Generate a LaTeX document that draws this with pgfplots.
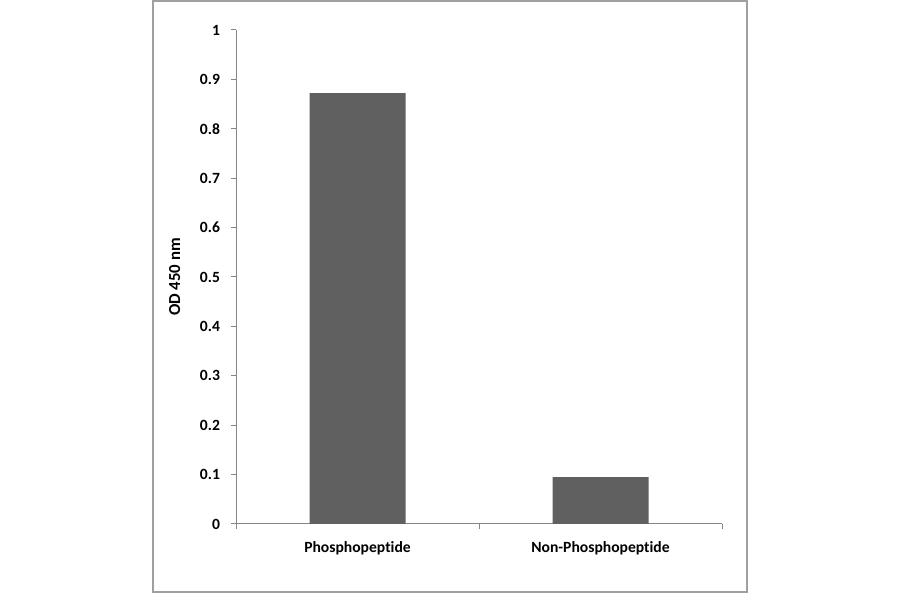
\documentclass[border=0pt]{standalone}
\usepackage{fontspec}
\setmainfont{Carlito}[Ligatures=NoCommon]
\usepackage{pgfplots}
\pgfplotsset{compat=1.18}
\definecolor{barfill}{RGB}{96,96,96}
\definecolor{axgray}{RGB}{134,134,134}
\definecolor{framegray}{RGB}{160,160,160}
\begin{document}
\begin{tikzpicture}[x=1pt,y=1pt]
% page: 450 x 297 pt (1 px = 0.5 pt)
\path[use as bounding box] (0,0) rectangle (450,297);
\draw[framegray, line width=0.6pt] (76.5,1) rectangle (373.5,296.5);
\begin{axis}[
    at={(118pt,35pt)}, anchor=south west,
    scale only axis,
    width=243pt, height=247pt,
    xmin=-0.5, xmax=1.5,
    ymin=0, ymax=1,
    axis lines*=left,
    axis line style={axgray, line width=0.5pt},
    tick align=outside,
    xtick={0,1},
    xticklabels={Phosphopeptide, Non-Phosphopeptide},
    major x tick style={draw=none},
    minor xtick={-0.5,0.5,1.5},
    minor tick length=2.5pt,
    major tick length=2.5pt,
    tick style={axgray, line width=0.5pt},
    ytick={0,0.1,...,1},
    yticklabel style={/pgf/number format/fixed, /pgf/number format/precision=1},
    /pgf/number format/assume math mode=true,
    ticklabel style={font=\fontsize{7.8}{9}\selectfont\bfseries},
    xticklabel style={yshift=-2.5pt},
    yticklabel style={xshift=-2pt},
    ylabel={OD 450 nm},
    ylabel style={font=\fontsize{8.4}{9}\selectfont\bfseries, yshift=3pt},
    ybar, bar width=48pt,
]
\addplot[fill=barfill, draw=none] coordinates {(0,0.872) (1,0.095)};
\end{axis}
\end{tikzpicture}
\end{document}
